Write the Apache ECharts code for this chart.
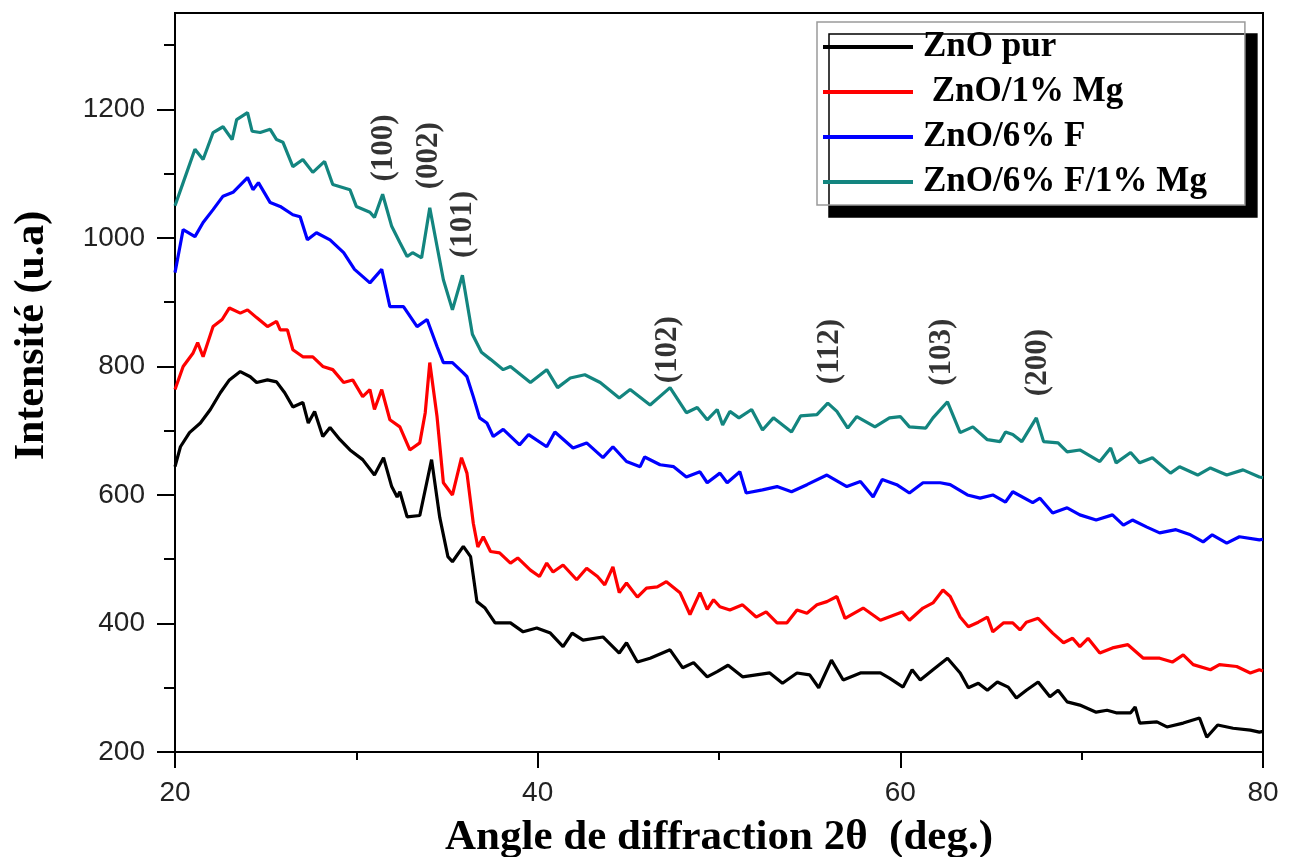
<!DOCTYPE html>
<html>
<head>
<meta charset="utf-8">
<title>DRX ZnO</title>
<script src="https://cdn.jsdelivr.net/npm/echarts@6/dist/echarts.min.js"></script>
<style>
  html, body { margin: 0; padding: 0; background: #fff; }
  #chart { width: 1291px; height: 857px; }
</style>
</head>
<body>
<div id="chart"></div>
<script>
// valeurs : [2theta, intensite]
const znoPur = [
  [20, 644], [20.3, 675], [20.8, 697], [21.4, 712], [21.95, 733], [22.5, 759], [23.0, 779], [23.6, 792],
  [24.15, 784], [24.5, 775], [25.1, 779], [25.6, 776], [26.05, 759], [26.5, 737], [27.05, 744], [27.35, 712],
  [27.7, 730], [28.15, 691], [28.55, 705], [29.1, 686], [29.65, 670], [30.35, 655], [31.0, 631], [31.5, 658],
  [31.95, 613], [32.25, 597], [32.4, 605], [32.8, 566], [33.5, 568], [34.15, 655], [34.6, 565], [35.05, 504],
  [35.3, 496], [35.9, 520], [36.3, 504], [36.65, 434], [37.1, 424], [37.65, 401], [38.5, 401], [39.2, 387],
  [39.95, 393], [40.7, 385], [41.4, 364], [41.9, 385], [42.5, 374], [43.6, 379], [44.5, 354], [44.9, 370],
  [45.5, 340], [46.2, 346], [47.3, 359], [48.0, 331], [48.6, 339], [49.35, 317], [49.9, 325], [50.5, 335],
  [51.3, 317], [52.05, 320], [52.8, 323], [53.5, 307], [54.3, 323], [55.0, 320], [55.5, 300], [56.2, 343],
  [56.85, 312], [57.8, 323], [58.9, 323], [59.4, 315], [60.15, 301], [60.65, 328], [61.1, 312], [61.8, 328],
  [62.6, 346], [63.3, 323], [63.75, 300], [64.3, 307], [64.8, 296], [65.35, 309], [65.95, 301], [66.4, 284],
  [66.95, 296], [67.6, 309], [68.25, 286], [68.7, 296], [69.2, 278], [69.9, 273], [70.8, 262], [71.4, 265],
  [71.9, 261], [72.7, 261], [72.95, 270], [73.2, 245], [74.15, 247], [74.7, 239], [75.6, 245], [76.5, 253],
  [76.9, 223], [77.5, 242], [78.35, 237], [79.3, 234], [79.8, 231], [80, 232]
]

const zno1Mg = [
  [20, 764], [20.45, 800], [21.0, 821], [21.25, 837], [21.55, 815], [22.1, 862], [22.6, 873], [23.0, 891],
  [23.6, 883], [24.0, 888], [24.5, 876], [25.1, 862], [25.6, 870], [25.8, 857], [26.2, 857], [26.5, 826],
  [27.05, 815], [27.6, 815], [28.15, 800], [28.7, 795], [29.3, 775], [29.8, 779], [30.35, 753], [30.75, 764],
  [31.0, 733], [31.4, 764], [31.85, 717], [32.4, 706], [32.95, 670], [33.5, 681], [33.8, 728], [34.05, 806],
  [34.45, 722], [34.8, 619], [35.3, 600], [35.8, 658], [36.1, 634], [36.45, 556], [36.7, 519], [37.0, 535],
  [37.4, 512], [37.9, 510], [38.5, 494], [38.9, 502], [39.6, 483], [40.1, 473], [40.5, 494], [40.85, 480],
  [41.4, 491], [42.15, 468], [42.7, 486], [43.3, 473], [43.7, 460], [44.15, 488], [44.5, 448], [44.9, 463],
  [45.5, 441], [46.0, 455], [46.6, 457], [47.1, 465], [47.85, 448], [48.4, 414], [48.95, 448], [49.35, 422],
  [49.7, 437], [50.05, 426], [50.6, 421], [51.3, 429], [52.05, 410], [52.6, 418], [53.2, 401], [53.75, 401],
  [54.3, 421], [54.85, 416], [55.4, 429], [55.95, 434], [56.5, 442], [56.95, 408], [57.95, 424], [58.9, 405],
  [60.1, 418], [60.5, 405], [61.25, 424], [61.8, 432], [62.35, 452], [62.75, 442], [63.3, 410], [63.75, 395],
  [64.3, 402], [64.8, 410], [65.1, 387], [65.7, 401], [66.2, 401], [66.6, 390], [66.95, 402], [67.6, 408],
  [68.4, 385], [69.0, 370], [69.5, 377], [69.9, 364], [70.35, 377], [71.0, 354], [71.7, 362], [72.55, 367],
  [73.4, 346], [74.3, 346], [75.0, 340], [75.6, 351], [76.15, 336], [77.1, 328], [77.6, 336], [78.55, 333],
  [79.3, 323], [79.8, 328], [80, 326]
]

const zno6F = [
  [20, 946], [20.45, 1013], [21.1, 1002], [21.55, 1024], [22.1, 1044], [22.65, 1065], [23.2, 1071], [24.0, 1094],
  [24.3, 1075], [24.6, 1086], [25.25, 1055], [25.8, 1049], [26.5, 1036], [26.9, 1033], [27.3, 997], [27.8, 1008],
  [28.55, 997], [29.3, 977], [29.9, 951], [30.75, 930], [31.4, 951], [31.85, 893], [32.6, 893], [33.35, 862],
  [33.9, 873], [34.45, 831], [34.8, 806], [35.3, 806], [35.9, 790], [36.1, 784], [36.45, 753], [36.8, 720],
  [37.2, 712], [37.55, 691], [38.1, 702], [39.0, 678], [39.5, 694], [40.5, 675], [40.95, 698], [41.95, 673],
  [42.7, 681], [43.6, 658], [44.15, 675], [44.9, 652], [45.65, 644], [45.9, 659], [46.75, 647], [47.5, 644],
  [48.2, 628], [48.95, 636], [49.35, 619], [50.05, 634], [50.45, 619], [51.15, 636], [51.5, 603], [52.4, 608],
  [53.2, 613], [54.0, 605], [54.85, 616], [55.95, 631], [57.05, 613], [57.8, 621], [58.5, 597], [59.0, 624],
  [59.8, 616], [60.5, 603], [61.25, 619], [62.2, 619], [62.75, 616], [63.7, 600], [64.4, 595], [65.1, 600],
  [65.8, 589], [66.2, 605], [67.3, 588], [67.7, 595], [68.4, 572], [69.2, 580], [69.9, 569], [70.8, 561],
  [71.7, 569], [72.3, 553], [72.8, 561], [73.6, 550], [74.3, 541], [75.2, 546], [76.0, 538], [76.7, 527],
  [77.2, 538], [78.0, 525], [78.7, 535], [79.8, 530], [80, 531]
]

const zno6F1Mg = [
  [20, 1050], [20.45, 1086], [21.1, 1138], [21.55, 1122], [22.1, 1164], [22.65, 1173], [23.15, 1153], [23.4, 1184],
  [24.0, 1195], [24.25, 1166], [24.7, 1164], [25.25, 1169], [25.6, 1153], [25.95, 1149], [26.5, 1111], [27.05, 1122],
  [27.6, 1102], [28.25, 1119], [28.7, 1083], [29.65, 1075], [30.0, 1049], [30.75, 1040], [31.0, 1032], [31.45, 1068],
  [31.95, 1018], [32.4, 993], [32.8, 971], [33.1, 977], [33.6, 969], [34.05, 1047], [34.45, 987], [34.8, 935],
  [35.3, 888], [35.85, 942], [36.4, 850], [36.9, 822], [37.4, 811], [38.1, 795], [38.5, 800], [39.6, 775],
  [40.5, 795], [41.1, 767], [41.8, 782], [42.6, 787], [43.45, 775], [44.5, 751], [45.1, 764], [46.2, 740],
  [47.3, 767], [48.2, 728], [48.8, 736], [49.35, 717], [49.9, 733], [50.2, 709], [50.6, 730], [51.1, 720],
  [51.8, 733], [52.4, 701], [53.0, 720], [54.0, 698], [54.5, 723], [55.4, 725], [56.0, 743], [56.5, 730],
  [57.1, 704], [57.6, 722], [58.6, 706], [59.4, 720], [60.0, 722], [60.5, 706], [61.4, 704], [61.8, 720],
  [62.6, 745], [63.3, 697], [64.0, 706], [64.8, 686], [65.5, 683], [65.8, 698], [66.2, 694], [66.7, 683],
  [67.5, 720], [67.9, 683], [68.7, 681], [69.2, 667], [69.9, 670], [71.0, 652], [71.6, 673], [71.9, 650],
  [72.7, 666], [73.2, 650], [73.9, 658], [74.9, 634], [75.4, 644], [76.4, 631], [77.1, 642], [78.0, 631],
  [78.9, 639], [79.8, 628], [80, 627]
]

// indexation des pics (hkl) et leur place sur le graphe
const peakNames = ['(100)', '(002)', '(101)', '(102)', '(112)', '(103)', '(200)']
const peakX = [31.5, 34.0, 35.9, 47.2, 56.1, 62.3, 67.6]
const peakY = [1140, 1128, 1021, 826, 823, 822, 806]

const seriesNames = ['ZnO pur', ' ZnO/1% Mg', 'ZnO/6% F', 'ZnO/6% F/1% Mg']
const seriesColors = ['#000000', '#ff0000', '#0000ff', '#13857f']
const seriesData = [znoPur, zno1Mg, zno6F, zno6F1Mg]

const yMajorTicks = [200, 400, 600, 800, 1000, 1200]
const yMinorTicks = [300, 500, 700, 900, 1100, 1300]

const chart = echarts.init(document.getElementById('chart'))

const serif = 'Liberation Serif'
const sans = 'Liberation Sans'

const lineSeries = seriesData.map((data, i) => ({
  name: seriesNames[i],
  type: 'line',
  data: data,
  symbol: 'none',
  animation: false,
  color: seriesColors[i],
  lineStyle: { color: seriesColors[i], width: 3.2 },
  z: 3
}))

const peakSeries = {
  name: 'pics',
  type: 'scatter',
  data: peakNames.map((n, i) => ({ name: n, value: [peakX[i], peakY[i]] })),
  symbolSize: 1,
  itemStyle: { color: 'rgba(0,0,0,0)' },
  silent: true,
  animation: false,
  label: {
    show: true,
    position: 'inside',
    rotate: 90,
    formatter: p => p.name,
    fontFamily: serif,
    fontWeight: 'bold',
    fontSize: 31,
    color: '#000'
  },
  z: 4
}

const option = {
  backgroundColor: '#fff',
  animation: false,
  grid: {
    left: 175,
    right: 28,
    top: 13,
    bottom: 105,
    outerBoundsMode: 'none',
    show: true,
    borderColor: '#000',
    borderWidth: 2
  },
  legend: {
    data: seriesNames,
    orient: 'vertical',
    left: 817,
    top: 22,
    icon: 'rect',
    itemWidth: 90,
    itemHeight: 4,
    itemGap: 9,
    padding: [7, 38, 5, 6],
    backgroundColor: '#fff',
    borderColor: '#9a9a9a',
    borderWidth: 1.5,
    shadowColor: '#000',
    shadowBlur: 0,
    shadowOffsetX: 12,
    shadowOffsetY: 12,
    selectedMode: false,
    textStyle: {
      fontFamily: serif,
      fontWeight: 'bold',
      fontSize: 35,
      lineHeight: 36,
      color: '#000',
      padding: [0, 0, 0, 5]
    }
  },
  xAxis: {
    type: 'value',
    min: 20,
    max: 80,
    interval: 20,
    name: 'Angle de diffraction 2θ  (deg.)',
    nameLocation: 'middle',
    nameGap: 64,
    nameTextStyle: {
      fontFamily: serif,
      fontWeight: 'bold',
      fontSize: 43,
      color: '#000'
    },
    axisLine: { lineStyle: { color: '#000', width: 2 } },
    axisTick: { length: 16, lineStyle: { color: '#000', width: 2 } },
    minorTick: { show: true, splitNumber: 2, length: 8, lineStyle: { color: '#000', width: 2 } },
    splitLine: { show: false },
    axisLabel: { margin: 27, fontFamily: sans, fontSize: 28, color: '#222' }
  },
  yAxis: [
    {
      type: 'value',
      min: 200,
      max: 1350,
      name: 'Intensité (u.a)',
      nameLocation: 'middle',
      nameGap: 122,
      nameTextStyle: {
        fontFamily: serif,
        fontWeight: 'bold',
        fontSize: 42,
        color: '#000',
        padding: [0, 0, 0, 94]
      },
      axisLine: { lineStyle: { color: '#000', width: 2 } },
      axisTick: { length: 18, customValues: yMajorTicks, lineStyle: { color: '#000', width: 2 } },
      splitLine: { show: false },
      axisLabel: {
        margin: 30,
        customValues: yMajorTicks,
        formatter: v => String(v),
        fontFamily: sans,
        fontSize: 28,
        color: '#222'
      }
    },
    {
      // petites graduations
      type: 'value',
      min: 200,
      max: 1350,
      position: 'left',
      axisLine: { show: false },
      axisTick: { length: 11, customValues: yMinorTicks, lineStyle: { color: '#000', width: 2 } },
      axisLabel: { show: false },
      splitLine: { show: false }
    }
  ],
  series: [...lineSeries, peakSeries]
}

chart.setOption(option)
</script>
</body>
</html>
